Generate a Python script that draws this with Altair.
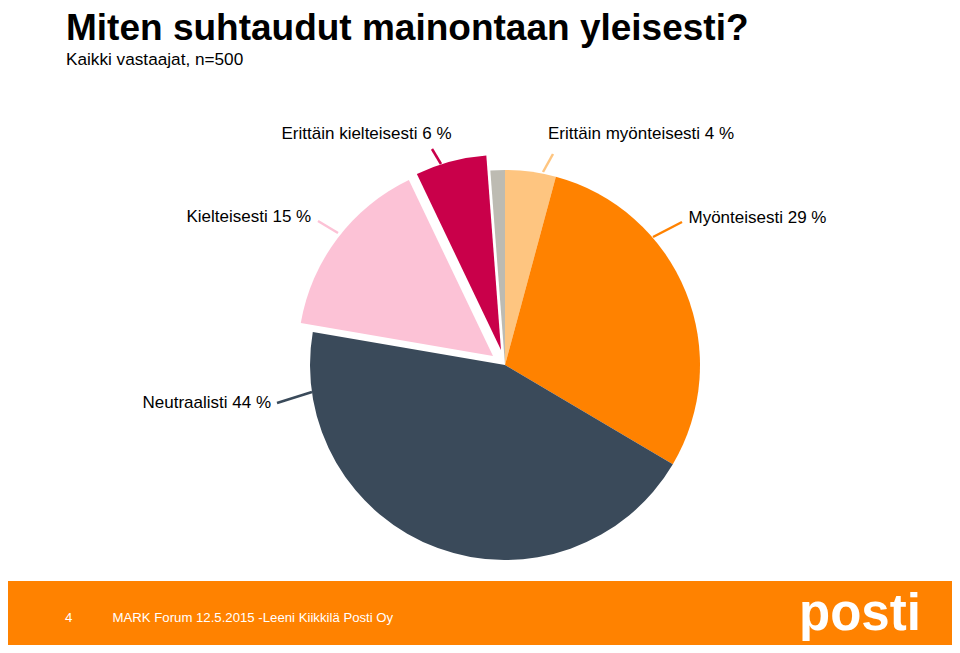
import math
import altair as alt
import pandas as pd

# ---- data ----
categories = ["Erittäin myönteisesti", "Myönteisesti", "Neutraalisti",
              "Kielteisesti", "Erittäin kielteisesti", "Ei osaa sanoa"]
values = [4.2, 29.3, 44.2, 15.2, 5.9, 1.2]
colors = ["#FEC580", "#FF8200", "#3A4A5A", "#FCC2D6", "#C9004A", "#BDBBB2"]

title_text = "Miten suhtaudut mainontaan yleisesti?"
subtitle_text = "Kaikki vastaajat, n=500"
footer_page = "4"
footer_text = "MARK Forum 12.5.2015 -Leeni Kiikkilä Posti Oy"
logo_text = "posti"

# ---- table for the pie ----
total = sum(values)
ends, acc = [], 0.0
for v in values:
    acc += v
    ends.append(acc)
starts = [e - v for e, v in zip(ends, values)]
pie_df = pd.DataFrame({"category": categories, "value": values, "color": colors,
                       "start": starts, "end": ends})

W, H = 944, 637
CX, CY, R = 497, 357, 195
FONT = "Liberation Sans, Arial, sans-serif"
ORANGE = "#FF8200"

theta_scale = alt.Scale(domain=[0, total], range=[0, 2 * math.pi])


def pie_layer(cats, dx=0, dy=0):
    return (
        alt.Chart(pie_df)
        .transform_filter(alt.FieldOneOfPredicate(field="category", oneOf=cats))
        .mark_arc(outerRadius=R, innerRadius=0, xOffset=dx, yOffset=dy)
        .encode(
            theta=alt.Theta("start:Q", scale=theta_scale),
            theta2="end:Q",
            color=alt.Color("color:N", scale=None, legend=None),
            x=alt.value(CX),
            y=alt.value(CY),
        )
    )


one = pd.DataFrame({"k": [0]})


def text_layer(txt, x, y, size, color="#000000", weight="normal", align="left",
               font=FONT, baseline="alphabetic"):
    return (
        alt.Chart(pd.DataFrame({"t": [txt]}))
        .mark_text(align=align, baseline=baseline, font=font, fontSize=size,
                   fontWeight=weight, color=color)
        .encode(text="t:N", x=alt.value(x), y=alt.value(y))
    )


def leader(x1, y1, x2, y2, color):
    return (
        alt.Chart(one)
        .mark_rule(color=color, strokeWidth=2.5)
        .encode(x=alt.value(x1), y=alt.value(y1), x2=alt.value(x2), y2=alt.value(y2))
    )


pct = {c: round(v) for c, v in zip(categories, values)}
col = dict(zip(categories, colors))

LS = 17  # label font size

layers = [
    pie_layer(["Erittäin myönteisesti", "Myönteisesti", "Neutraalisti", "Ei osaa sanoa"]),
    pie_layer(["Kielteisesti"], -12, -9),
    pie_layer(["Erittäin kielteisesti"], -4, -15),
    # leader lines
    leader(433, 156, 424, 141, col["Erittäin kielteisesti"]),
    leader(535, 164, 545, 146, col["Erittäin myönteisesti"]),
    leader(330, 225, 310, 213, col["Kielteisesti"]),
    leader(645, 229, 674, 214, col["Myönteisesti"]),
    leader(304, 384, 269, 395, col["Neutraalisti"]),
    # labels
    text_layer(f"Erittäin kielteisesti {pct['Erittäin kielteisesti']} %", 273.5, 130.5, LS),
    text_layer(f"Erittäin myönteisesti {pct['Erittäin myönteisesti']} %", 540, 130.5, LS),
    text_layer(f"Kielteisesti {pct['Kielteisesti']} %", 178.5, 214, LS),
    text_layer(f"Myönteisesti {pct['Myönteisesti']} %", 680.5, 214.5, LS),
    text_layer(f"Neutraalisti {pct['Neutraalisti']} %", 134.5, 399.5, LS),
    # title and subtitle
    text_layer(title_text, 58, 3, 37, weight="bold", baseline="top"),
    text_layer(subtitle_text, 58, 57, 17.2),
    # footer band
    alt.Chart(one).mark_rect(color=ORANGE).encode(
        x=alt.value(-8), x2=alt.value(W + 8), y=alt.value(573), y2=alt.value(H + 8)
    ),
    text_layer(footer_page, 57, 613.5, 13.2, color="#FFFFFF"),
    text_layer(footer_text, 104.5, 613.5, 13.2, color="#FFFFFF"),
    text_layer(logo_text, 791, 622, 51, color="#FFFFFF", weight="bold"),
]

chart = (
    alt.layer(*layers)
    .properties(width=W, height=H, padding=0, autosize=alt.AutoSizeParams(type="none"))
    .configure_view(stroke=None)
)

chart.save("out.html", embed_options={"renderer": "svg", "actions": False})
